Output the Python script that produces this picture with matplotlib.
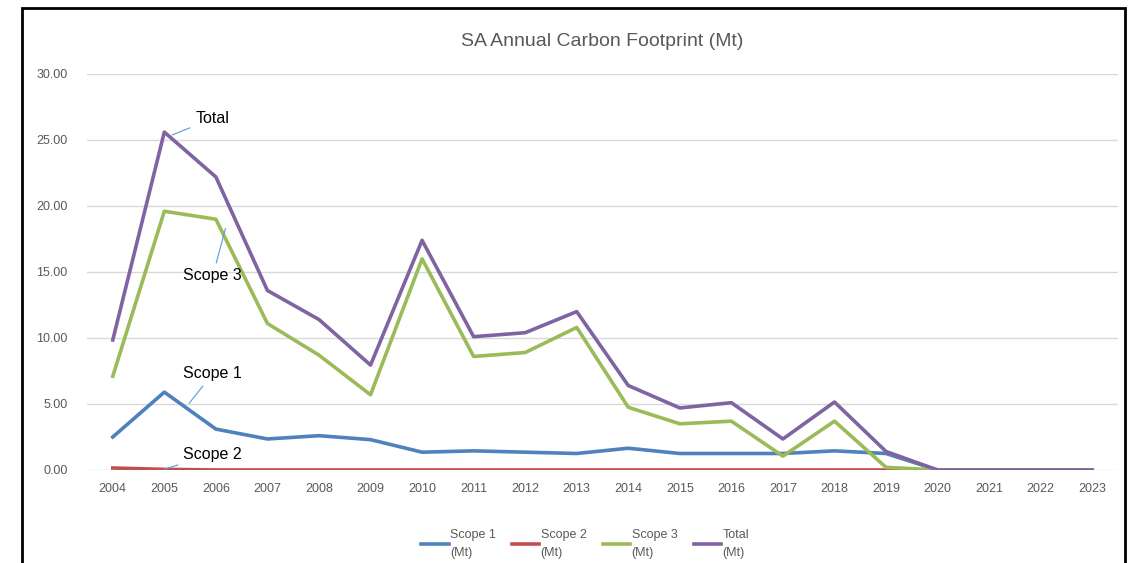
import matplotlib
matplotlib.use("Agg")
import matplotlib.pyplot as plt
from matplotlib.patches import Rectangle

plt.rcParams['font.family'] = ['Liberation Sans', 'DejaVu Sans']

years = [str(y) for y in range(2004, 2024)]
scope1 = [2.5, 5.9, 3.1, 2.35, 2.6, 2.3, 1.35, 1.45, 1.35, 1.25,
          1.65, 1.25, 1.25, 1.25, 1.45, 1.25, 0, 0, 0, 0]
scope2 = [0.15, 0.05, 0, 0, 0, 0, 0, 0, 0, 0,
          0, 0, 0, 0, 0, 0, 0, 0, 0, 0]
scope3 = [7.1, 19.6, 19.0, 11.1, 8.7, 5.7, 16.0, 8.6, 8.9, 10.8,
          4.75, 3.5, 3.7, 1.05, 3.7, 0.2, 0, 0, 0, 0]
total = [9.85, 25.6, 22.2, 13.6, 11.4, 7.95, 17.4, 10.1, 10.4, 12.0,
         6.4, 4.7, 5.1, 2.35, 5.15, 1.4, 0, 0, 0, 0]

series = [("Scope 1\n(Mt)", scope1, "#4F81BD"),
          ("Scope 2\n(Mt)", scope2, "#C0504D"),
          ("Scope 3\n(Mt)", scope3, "#9BBB59"),
          ("Total\n(Mt)", total, "#8064A2")]

fig = plt.figure(figsize=(11.3, 5.63), dpi=100)
ax = fig.add_axes([87/1130, 1-470/563, (1118-87)/1130, (470-74)/563])

x = list(range(len(years)))
for label, vals, col in series:
    ax.plot(x, vals, color=col, lw=2.6, label=label)

ax.set_xlim(-0.5, len(years) - 0.5)
ax.set_ylim(0, 30)
yt = [0, 5, 10, 15, 20, 25, 30]
ax.set_yticks(yt)
ax.set_yticklabels([f"{v:.2f}" for v in yt])
ax.set_xticks(x)
ax.set_xticklabels(years)
ax.grid(axis='y', color='#d9d9d9', lw=1)
ax.set_axisbelow(True)
for s in ax.spines.values():
    s.set_visible(False)
ax.tick_params(length=0, labelsize=9, colors='#595959', pad=9)
ax.tick_params(axis='y', pad=14)

ax.set_title("SA Annual Carbon Footprint (Mt)", fontsize=14, color='#595959', pad=20)

# callout labels
lab_kw = dict(fontsize=11.5, color='black', ha='left', va='center')
arrow = dict(arrowstyle='-', color='#5b9bd5', lw=0.8)
ax.annotate("Total", xy=(1.1, 25.3), xytext=(1.6, 26.6), arrowprops=arrow, **lab_kw)
ax.annotate("Scope 3", xy=(2.2, 18.5), xytext=(1.37, 14.7), arrowprops=arrow, **lab_kw)
ax.annotate("Scope 1", xy=(1.45, 4.9), xytext=(1.37, 7.3), arrowprops=arrow, **lab_kw)
ax.annotate("Scope 2", xy=(0.95, 0.0), xytext=(1.37, 1.2), arrowprops=arrow, **lab_kw)

leg = ax.legend(loc='upper center', bbox_to_anchor=(0.483, -0.12), ncol=4,
                frameon=False, fontsize=9, handlelength=2.2, handletextpad=0.1,
                columnspacing=1.3)
for t in leg.get_texts():
    t.set_color('#595959')
    t.set_linespacing(1.7)

fig.patches.append(Rectangle((22/1130, -0.05), (1125-22)/1130, 1.05 - 8/563,
                             transform=fig.transFigure, fill=False,
                             edgecolor='black', lw=2))

fig.savefig("out.png", dpi=100)
